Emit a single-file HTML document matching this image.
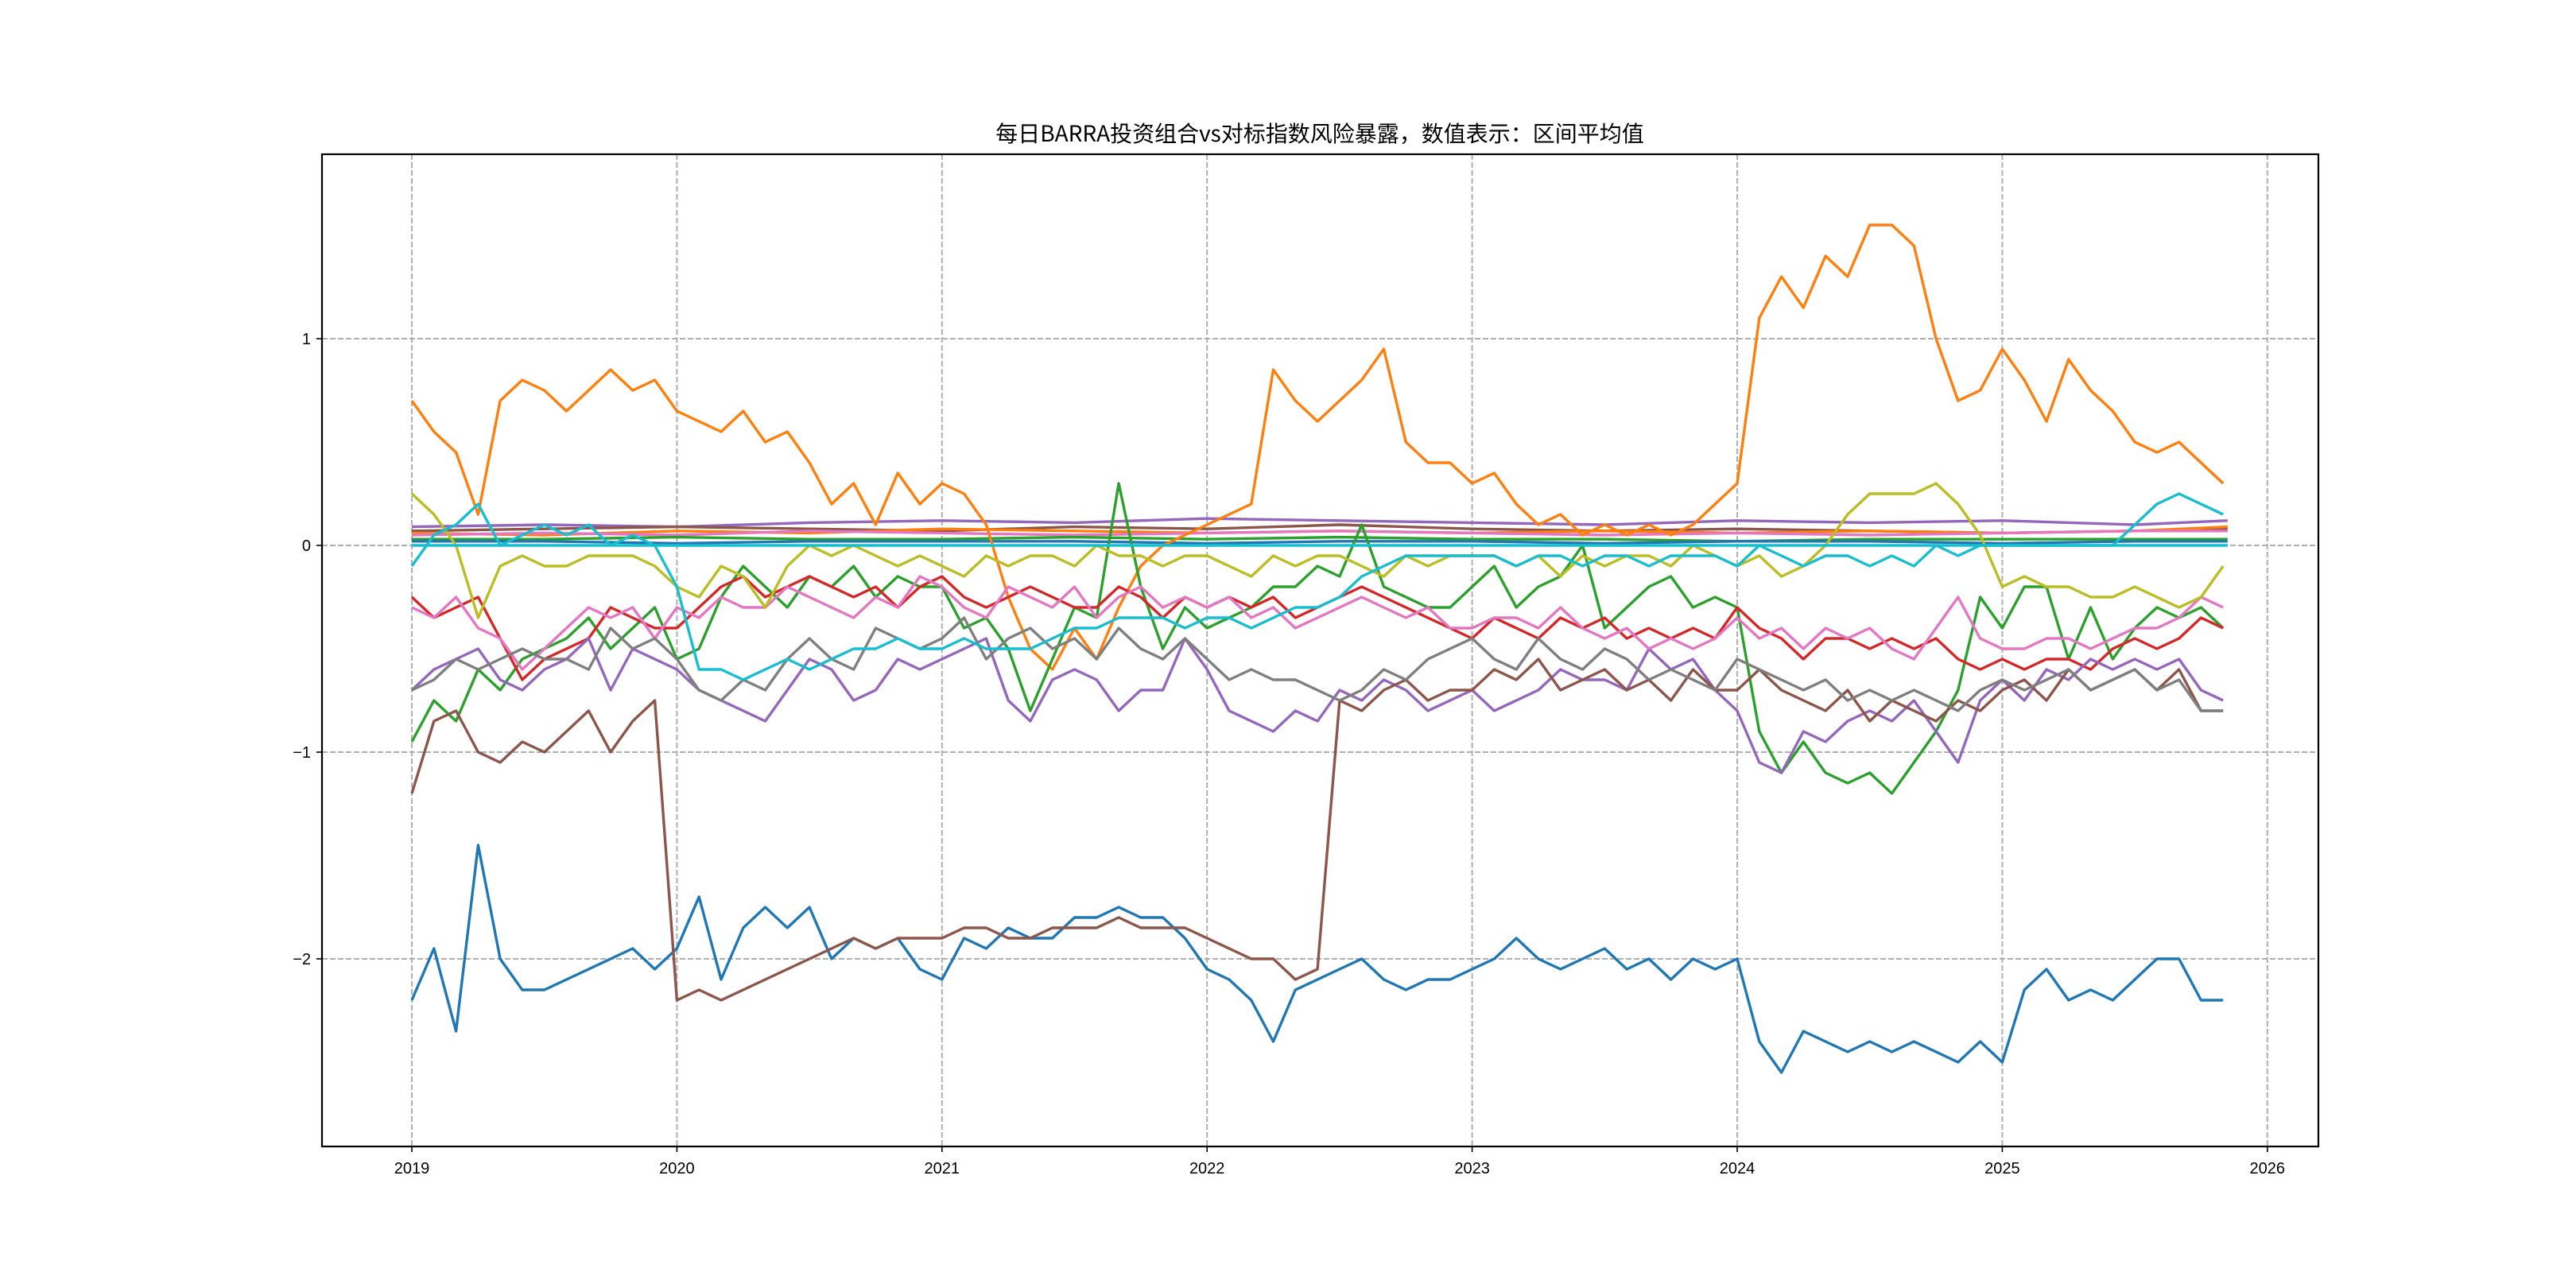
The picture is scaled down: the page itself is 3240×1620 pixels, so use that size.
<!DOCTYPE html>
<html><head><meta charset="utf-8"><style>
html,body{margin:0;padding:0;background:#fff;}
svg{display:block;}
</style></head><body>
<svg id="chart" width="3240" height="1620" xmlns="http://www.w3.org/2000/svg">
<rect x="0" y="0" width="3240" height="1620" fill="#fff"/>
<text x="1660" y="178" text-anchor="middle" font-size="28" font-family="'Noto Sans CJK SC','Liberation Sans',sans-serif" fill="#000">每日BARRA投资组合vs对标指数风险暴露，数值表示：区间平均值</text>
<g id="grid"></g>
<g id="plot"></g>
<g id="axes"></g>
</svg>
<script>
const xTickLabels = ["2019","2020","2021","2022","2023","2024","2025","2026"];
const xTickValues = [2019,2020,2021,2022,2023,2024,2025,2026];
const yTickLabels = ["1","0","\u22122"];
const yTickValues = [1,0,-2];
const yTickLabels2 = ["\u22121"];
const yTickValues2 = [-1];

const orangeBig = [0.7,0.55,0.45,0.15,0.7,0.8,0.75,0.65,0.75,0.85,0.75,0.8,0.65,0.6,0.55,0.65,0.5,0.55,0.4,0.2,0.3,0.1,0.35,0.2,0.3,0.25,0.1,-0.25,-0.5,-0.6,-0.4,-0.55,-0.3,-0.1,0.0,0.05,0.1,0.15,0.2,0.85,0.7,0.6,0.7,0.8,0.95,0.5,0.4,0.4,0.3,0.35,0.2,0.1,0.15,0.05,0.1,0.05,0.1,0.05,0.1,0.2,0.3,1.1,1.3,1.15,1.4,1.3,1.55,1.55,1.45,1.0,0.7,0.75,0.95,0.8,0.6,0.9,0.75,0.65,0.5,0.45,0.5,0.4,0.3];
const blueLow = [-2.2,-1.95,-2.35,-1.45,-2.0,-2.15,-2.15,-2.1,-2.05,-2.0,-1.95,-2.05,-1.95,-1.7,-2.1,-1.85,-1.75,-1.85,-1.75,-2.0,-1.9,-1.95,-1.9,-2.05,-2.1,-1.9,-1.95,-1.85,-1.9,-1.9,-1.8,-1.8,-1.75,-1.8,-1.8,-1.9,-2.05,-2.1,-2.2,-2.4,-2.15,-2.1,-2.05,-2.0,-2.1,-2.15,-2.1,-2.1,-2.05,-2.0,-1.9,-2.0,-2.05,-2.0,-1.95,-2.05,-2.0,-2.1,-2.0,-2.05,-2.0,-2.4,-2.55,-2.35,-2.4,-2.45,-2.4,-2.45,-2.4,-2.45,-2.5,-2.4,-2.5,-2.15,-2.05,-2.2,-2.15,-2.2,-2.1,-2.0,-2.0,-2.2,-2.2];
const brownSeries = [-1.2,-0.85,-0.8,-1.0,-1.05,-0.95,-1.0,-0.9,-0.8,-1.0,-0.85,-0.75,-2.2,-2.15,-2.2,-2.15,-2.1,-2.05,-2.0,-1.95,-1.9,-1.95,-1.9,-1.9,-1.9,-1.85,-1.85,-1.9,-1.9,-1.85,-1.85,-1.85,-1.8,-1.85,-1.85,-1.85,-1.9,-1.95,-2.0,-2.0,-2.1,-2.05,-0.75,-0.8,-0.7,-0.65,-0.75,-0.7,-0.7,-0.6,-0.65,-0.55,-0.7,-0.65,-0.6,-0.7,-0.65,-0.75,-0.6,-0.7,-0.7,-0.6,-0.7,-0.75,-0.8,-0.7,-0.85,-0.75,-0.8,-0.85,-0.75,-0.8,-0.7,-0.65,-0.75,-0.6,-0.7,-0.65,-0.6,-0.7,-0.6,-0.8,-0.8];
const greenSeries = [-0.95,-0.75,-0.85,-0.6,-0.7,-0.55,-0.5,-0.45,-0.35,-0.5,-0.4,-0.3,-0.55,-0.5,-0.25,-0.1,-0.2,-0.3,-0.15,-0.2,-0.1,-0.25,-0.15,-0.2,-0.2,-0.4,-0.35,-0.5,-0.8,-0.55,-0.3,-0.35,0.3,-0.2,-0.5,-0.3,-0.4,-0.35,-0.3,-0.2,-0.2,-0.1,-0.15,0.1,-0.2,-0.25,-0.3,-0.3,-0.2,-0.1,-0.3,-0.2,-0.15,0.0,-0.4,-0.3,-0.2,-0.15,-0.3,-0.25,-0.3,-0.9,-1.1,-0.95,-1.1,-1.15,-1.1,-1.2,-1.05,-0.9,-0.7,-0.25,-0.4,-0.2,-0.2,-0.55,-0.3,-0.55,-0.4,-0.3,-0.35,-0.3,-0.4];
const purpleSeries = [-0.7,-0.6,-0.55,-0.5,-0.65,-0.7,-0.6,-0.55,-0.45,-0.7,-0.5,-0.55,-0.6,-0.7,-0.75,-0.8,-0.85,-0.7,-0.55,-0.6,-0.75,-0.7,-0.55,-0.6,-0.55,-0.5,-0.45,-0.75,-0.85,-0.65,-0.6,-0.65,-0.8,-0.7,-0.7,-0.45,-0.6,-0.8,-0.85,-0.9,-0.8,-0.85,-0.7,-0.75,-0.65,-0.7,-0.8,-0.75,-0.7,-0.8,-0.75,-0.7,-0.6,-0.65,-0.65,-0.7,-0.5,-0.6,-0.55,-0.7,-0.8,-1.05,-1.1,-0.9,-0.95,-0.85,-0.8,-0.85,-0.75,-0.9,-1.05,-0.75,-0.65,-0.75,-0.6,-0.65,-0.55,-0.6,-0.55,-0.6,-0.55,-0.7,-0.75];
const graySeries = [-0.7,-0.65,-0.55,-0.6,-0.55,-0.5,-0.55,-0.55,-0.6,-0.4,-0.5,-0.45,-0.55,-0.7,-0.75,-0.65,-0.7,-0.55,-0.45,-0.55,-0.6,-0.4,-0.45,-0.5,-0.45,-0.35,-0.55,-0.45,-0.4,-0.5,-0.45,-0.55,-0.4,-0.5,-0.55,-0.45,-0.55,-0.65,-0.6,-0.65,-0.65,-0.7,-0.75,-0.7,-0.6,-0.65,-0.55,-0.5,-0.45,-0.55,-0.6,-0.45,-0.55,-0.6,-0.5,-0.55,-0.65,-0.6,-0.65,-0.7,-0.55,-0.6,-0.65,-0.7,-0.65,-0.75,-0.7,-0.75,-0.7,-0.75,-0.8,-0.7,-0.65,-0.7,-0.65,-0.6,-0.7,-0.65,-0.6,-0.7,-0.65,-0.8,-0.8];
const redSeries = [-0.25,-0.35,-0.3,-0.25,-0.45,-0.65,-0.55,-0.5,-0.45,-0.3,-0.35,-0.4,-0.4,-0.3,-0.2,-0.15,-0.25,-0.2,-0.15,-0.2,-0.25,-0.2,-0.3,-0.2,-0.15,-0.25,-0.3,-0.25,-0.2,-0.25,-0.3,-0.3,-0.2,-0.25,-0.35,-0.25,-0.3,-0.25,-0.3,-0.25,-0.35,-0.3,-0.25,-0.2,-0.25,-0.3,-0.35,-0.4,-0.45,-0.35,-0.4,-0.45,-0.35,-0.4,-0.35,-0.45,-0.4,-0.45,-0.4,-0.45,-0.3,-0.4,-0.45,-0.55,-0.45,-0.45,-0.5,-0.45,-0.5,-0.45,-0.55,-0.6,-0.55,-0.6,-0.55,-0.55,-0.6,-0.5,-0.45,-0.5,-0.45,-0.35,-0.4];
const pinkSeries = [-0.3,-0.35,-0.25,-0.4,-0.45,-0.6,-0.5,-0.4,-0.3,-0.35,-0.3,-0.45,-0.3,-0.35,-0.25,-0.3,-0.3,-0.2,-0.25,-0.3,-0.35,-0.25,-0.3,-0.15,-0.2,-0.3,-0.35,-0.2,-0.25,-0.3,-0.2,-0.35,-0.25,-0.2,-0.3,-0.25,-0.3,-0.25,-0.35,-0.3,-0.4,-0.35,-0.3,-0.25,-0.3,-0.35,-0.3,-0.4,-0.4,-0.35,-0.35,-0.4,-0.3,-0.4,-0.45,-0.4,-0.5,-0.45,-0.5,-0.45,-0.35,-0.45,-0.4,-0.5,-0.4,-0.45,-0.4,-0.5,-0.55,-0.4,-0.25,-0.45,-0.5,-0.5,-0.45,-0.45,-0.5,-0.45,-0.4,-0.4,-0.35,-0.25,-0.3];
const cyanSeries = [-0.1,0.05,0.1,0.2,0.0,0.05,0.1,0.05,0.1,0.0,0.05,0.0,-0.2,-0.6,-0.6,-0.65,-0.6,-0.55,-0.6,-0.55,-0.5,-0.5,-0.45,-0.5,-0.5,-0.45,-0.5,-0.5,-0.5,-0.45,-0.4,-0.4,-0.35,-0.35,-0.35,-0.4,-0.35,-0.35,-0.4,-0.35,-0.3,-0.3,-0.25,-0.15,-0.1,-0.05,-0.05,-0.05,-0.05,-0.05,-0.1,-0.05,-0.05,-0.1,-0.05,-0.05,-0.1,-0.05,-0.05,-0.05,-0.1,0.0,-0.05,-0.1,-0.05,-0.05,-0.1,-0.05,-0.1,0.0,-0.05,0.0,0.0,0.0,0.0,0.0,0.0,0.0,0.1,0.2,0.25,0.2,0.15];
const oliveSeries = [0.25,0.15,0.0,-0.35,-0.1,-0.05,-0.1,-0.1,-0.05,-0.05,-0.05,-0.1,-0.2,-0.25,-0.1,-0.15,-0.3,-0.1,0.0,-0.05,0.0,-0.05,-0.1,-0.05,-0.1,-0.15,-0.05,-0.1,-0.05,-0.05,-0.1,0.0,-0.05,-0.05,-0.1,-0.05,-0.05,-0.1,-0.15,-0.05,-0.1,-0.05,-0.05,-0.1,-0.15,-0.05,-0.1,-0.05,-0.05,-0.05,-0.1,-0.05,-0.15,-0.05,-0.1,-0.05,-0.05,-0.1,0.0,-0.05,-0.1,-0.05,-0.15,-0.1,0.0,0.15,0.25,0.25,0.25,0.3,0.2,0.05,-0.2,-0.15,-0.2,-0.2,-0.25,-0.25,-0.2,-0.25,-0.3,-0.25,-0.1];

const flatDates = [2019.0,2019.5,2020.0,2020.5,2021.0,2021.5,2022.0,2022.5,2023.0,2023.5,2024.0,2024.5,2025.0,2025.5,2025.85];
const flatPurple = [0.09,0.1,0.09,0.11,0.12,0.11,0.13,0.12,0.11,0.1,0.12,0.11,0.12,0.1,0.12];
const flatBrown = [0.07,0.08,0.09,0.08,0.07,0.09,0.08,0.1,0.08,0.07,0.08,0.07,0.06,0.07,0.08];
const flatOrange = [0.06,0.05,0.07,0.06,0.08,0.07,0.06,0.07,0.06,0.07,0.06,0.07,0.06,0.07,0.09];
const flatPink = [0.05,0.06,0.05,0.07,0.06,0.05,0.06,0.07,0.06,0.05,0.06,0.05,0.06,0.07,0.07];
const flatGreen = [0.03,0.03,0.04,0.03,0.03,0.04,0.03,0.04,0.03,0.03,0.02,0.03,0.03,0.03,0.03];
const flatBlue = [0.02,0.02,0.01,0.02,0.02,0.02,0.01,0.02,0.02,0.01,0.02,0.02,0.01,0.02,0.02];
const flatCyan = [0.0,0.0,0.0,0.0,0.0,0.0,0.0,0.0,0.0,0.0,0.0,0.0,0.0,0.0,0.0];

const X0 = 405, X1 = 2916, Y0 = 194, Y1 = 1442;
function xScale(t){ return 518 + (t - 2019) * 333.4; }
function yScale(v){ return 686 - v * 260; }
const NS = "http://www.w3.org/2000/svg";
const grid = document.getElementById('grid');
const plot = document.getElementById('plot');
const axes = document.getElementById('axes');
const FONT = "'Liberation Sans','DejaVu Sans',sans-serif";

function mk(tag, attrs, parent){ const e = document.createElementNS(NS, tag); for (const k in attrs) e.setAttribute(k, attrs[k]); parent.appendChild(e); return e; }

xTickValues.forEach((v, i) => {
  const x = xScale(v);
  const g = mk('line', {x1:x, x2:x, y1:Y0, y2:Y1, stroke:'#b0b0b0', 'stroke-width':2, 'stroke-dasharray':'7,3'}, grid);
  
  
  const tk = mk('line', {x1:x, x2:x, y1:Y1, y2:Y1+7, stroke:'#000', 'stroke-width':1.6}, axes);
  
  
  const t = mk('text', {x:x, y:Y1+34, 'text-anchor':'middle', 'font-size':20, 'font-family':FONT, fill:'#000'}, axes);
  t.textContent = xTickLabels[i];
  
  
});
function yTicks(vals, labels){
  vals.forEach((v, i) => {
    const y = yScale(v);
    const g = mk('line', {x1:X0, x2:X1, y1:y, y2:y, stroke:'#b0b0b0', 'stroke-width':2, 'stroke-dasharray':'7,3'}, grid);
    
    
    const tk = mk('line', {x1:X0-7, x2:X0, y1:y, y2:y, stroke:'#000', 'stroke-width':1.6}, axes);
    
    
    const t = mk('text', {x:X0-14, y:y+7, 'text-anchor':'end', 'font-size':20, 'font-family':FONT, fill:'#000'}, axes);
    t.textContent = labels[i];
    
    
  });
}
yTicks(yTickValues, yTickLabels);
yTicks(yTickValues2, yTickLabels2);

function monthDates(n){ const d = []; for (let i = 0; i < n; i++) d.push(2019 + i/12); return d; }
function drawLine(dates, vals, color, name){
  let d = '';
  vals.forEach((v, i) => { d += (i ? 'L' : 'M') + xScale(dates[i]).toFixed(1) + ',' + yScale(v).toFixed(1); });
  const p = mk('path', {d:d, fill:'none', stroke:color, 'stroke-width':3.4, 'stroke-linejoin':'round'}, plot);
  
  
}
const flats = [[flatPurple,'#9467bd'],[flatBrown,'#8c564b'],[flatOrange,'#ff7f0e'],[flatPink,'#e377c2'],[flatGreen,'#2ca02c'],[flatBlue,'#1f77b4']];
flats.forEach(f => drawLine(flatDates, f[0], f[1], 'near-zero-series'));
const mains = [
  [blueLow,'#1f77b4','series-blue'],
  [orangeBig,'#ff7f0e','series-orange'],
  [greenSeries,'#2ca02c','series-green'],
  [redSeries,'#d62728','series-red'],
  [purpleSeries,'#9467bd','series-purple'],
  [brownSeries,'#8c564b','series-brown'],
  [pinkSeries,'#e377c2','series-pink'],
  [graySeries,'#7f7f7f','series-gray'],
  [oliveSeries,'#bcbd22','series-olive'],
  [cyanSeries,'#17becf','series-cyan']
];
mains.forEach(m => drawLine(monthDates(m[0].length), m[0], m[1], m[2]));
drawLine(flatDates, flatCyan, '#17becf', 'near-zero-series');

const frame = mk('rect', {x:X0, y:Y0, width:X1-X0, height:Y1-Y0, fill:'none', stroke:'#000', 'stroke-width':2.2}, axes);


</script>
</body></html>
